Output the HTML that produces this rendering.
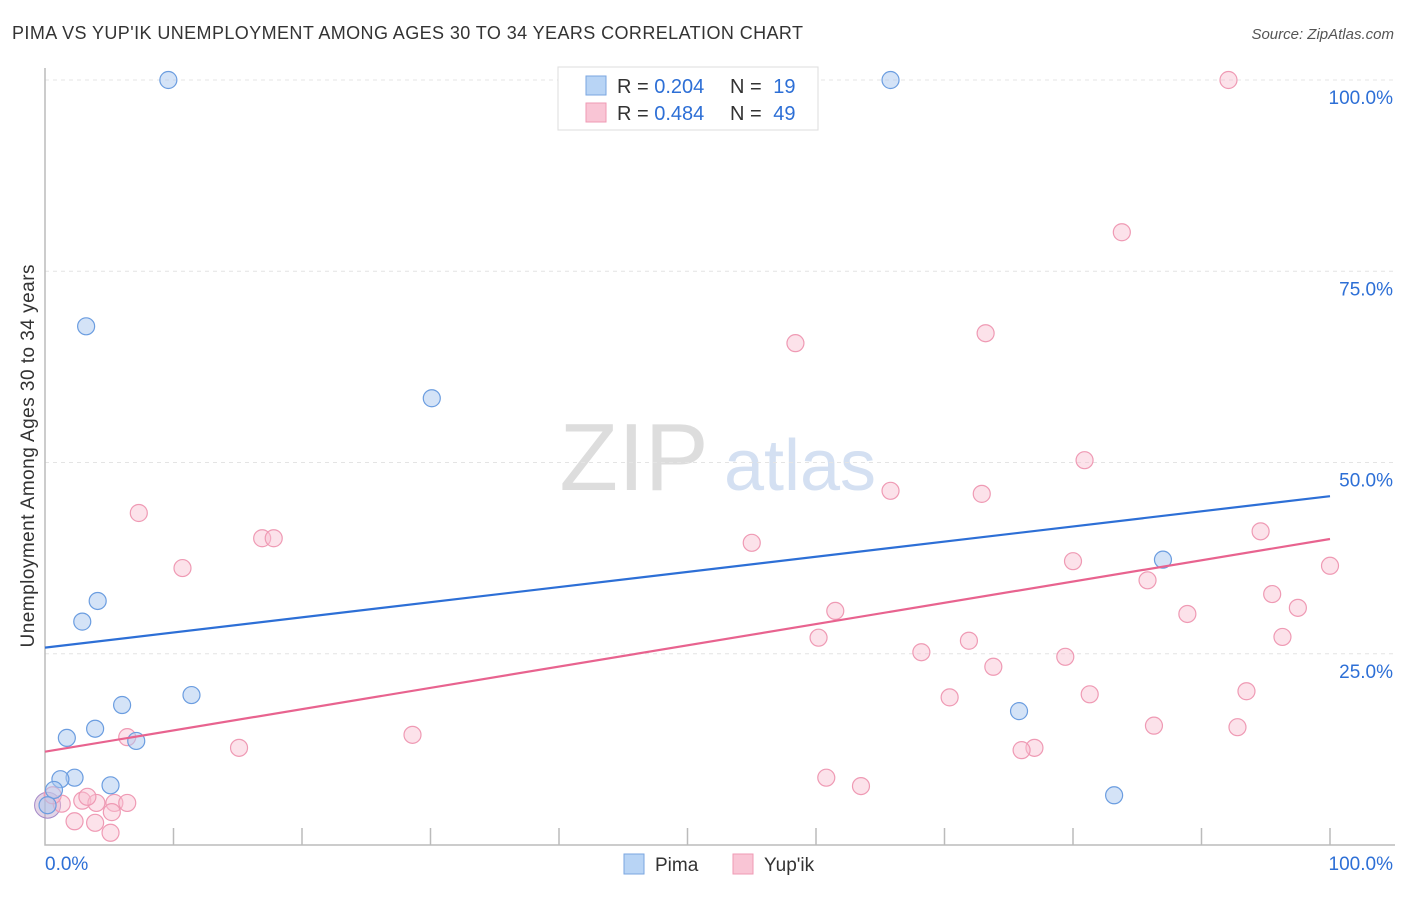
<!DOCTYPE html>
<html><head><meta charset="utf-8"><style>
body{margin:0;background:#fff;font-family:"Liberation Sans",sans-serif}
svg text{font-family:"Liberation Sans",sans-serif}
</style></head><body>
<svg id="c" width="1406" height="892">
<text x="12" y="39" font-size="18" fill="#333" textLength="791">PIMA VS YUP'IK UNEMPLOYMENT AMONG AGES 30 TO 34 YEARS CORRELATION CHART</text>
<text x="1394" y="39" font-size="15" font-style="italic" fill="#555" text-anchor="end">Source: ZipAtlas.com</text>
<text x="634" y="490" font-size="96" font-family="Liberation Serif" fill="#ddd" text-anchor="middle">ZIP</text>
<text x="800" y="490" font-size="72" fill="#d4e0f2" text-anchor="middle">atlas</text>
<text transform="translate(34,456) rotate(-90)" font-size="19" fill="#333" text-anchor="middle" textLength="383">Unemployment Among Ages 30 to 34 years</text>
<g id="grid"></g><g id="pts"></g><g id="lines"></g>
<g>
<rect x="558" y="67" width="260" height="63" fill="#fff" stroke="#ddd"/>
<rect x="586" y="76" width="20" height="19" fill="#b8d4f5" stroke="#7aa6e0"/>
<rect x="586" y="103" width="20" height="19" fill="#f9c5d5" stroke="#ef9ab4"/>
<text x="617" y="93" font-size="20" fill="#333">R = <tspan fill="#2d6fd6">0.204</tspan></text>
<text x="730" y="93" font-size="20" fill="#333">N = <tspan fill="#2d6fd6" dx="6">19</tspan></text>
<text x="617" y="120" font-size="20" fill="#333">R = <tspan fill="#2d6fd6">0.484</tspan></text>
<text x="730" y="120" font-size="20" fill="#333">N = <tspan fill="#2d6fd6" dx="6">49</tspan></text>
</g>
<g>
<rect x="624" y="854" width="20" height="20" fill="#b8d4f5" stroke="#7aa6e0"/>
<text x="655" y="871" font-size="19" fill="#333">Pima</text>
<rect x="733" y="854" width="20" height="20" fill="#f9c5d5" stroke="#ef9ab4"/>
<text x="764" y="871" font-size="19" fill="#333">Yup'ik</text>
</g>
<text x="45" y="870" font-size="19" fill="#2d6fd6">0.0%</text>
<text x="1393" y="870" font-size="19" fill="#2d6fd6" text-anchor="end">100.0%</text>
</svg>
<script>
const yTicks=[100,75,50,25];
const yTickLabels=["100.0%","75.0%","50.0%","25.0%"];
const pimaX=[9.6,65.8,3.2,30.1,4.1,2.9,11.4,6.0,3.9,1.7,7.1,87.0,75.8,2.3,1.2,5.1,0.7,83.2,0.2];
const pimaY=[100,100,67.8,58.4,31.9,29.2,19.6,18.3,15.2,14.0,13.6,37.3,17.5,8.8,8.6,7.8,7.2,6.5,5.2];
const yupX=[92.1,83.8,73.2,58.4,7.3,80.9,65.8,72.9,16.9,17.8,10.7,55.0,94.6,80.0,85.8,100,95.5,97.5,61.5,88.9,60.2,96.3,71.9,68.2,79.4,73.8,93.5,70.4,81.3,6.4,86.3,92.8,15.1,28.6,77.0,76.0,60.8,63.5,2.9,1.3,4.0,5.4,0.6,3.3,6.4,2.3,3.9,5.2,5.1];
const yupY=[100,80.1,66.9,65.6,43.4,50.3,46.3,45.9,40.1,40.1,36.2,39.5,41.0,37.1,34.6,36.5,32.8,31.0,30.6,30.2,27.1,27.2,26.7,25.2,24.6,23.3,20.1,19.3,19.7,14.1,15.6,15.4,12.7,14.4,12.7,12.4,8.8,7.7,5.8,5.4,5.5,5.5,6.5,6.3,5.5,3.1,2.9,4.3,1.6];
const pimaTrend=[25.8,45.6];
const yupTrend=[12.2,40.0];
const X=v=>45+v*12.85, Y=v=>845-v*7.65;
const NS="http://www.w3.org/2000/svg";
function mk(t,a,p){const e=document.createElementNS(NS,t);for(const k in a)e.setAttribute(k,a[k]);p.appendChild(e);return e;}
const g=document.getElementById('grid');
yTicks.forEach((t,i)=>{
 const l=mk('line',{x1:45,x2:1395,y1:Y(t),y2:Y(t),stroke:'#e4e4e4','stroke-dasharray':'4,4'},g);
 
 
 const tx=mk('text',{x:1393,y:Y(t)+24,'font-size':19,fill:'#2d6fd6','text-anchor':'end'},g);
 tx.textContent=yTickLabels[i];
 
 
});
const ax=mk('path',{d:'M45 68V845H1395',fill:'none',stroke:'#bbb','stroke-width':1.5},g);


for(let i=1;i<=10;i++){
 const t=mk('line',{x1:X(i*10),x2:X(i*10),y1:828,y2:845,stroke:'#bbb','stroke-width':1.5},g);
 
 
}
const p=document.getElementById('pts');
const big1=mk('circle',{cx:X(0.2),cy:Y(5.2),r:13,fill:'rgba(190,160,200,0.45)',stroke:'#a58ac8'},p);


yupX.forEach((v,i)=>{
 const c=mk('circle',{cx:X(v),cy:Y(yupY[i]),r:8.5,fill:'rgba(248,190,208,0.45)',stroke:'#ef9ab4','stroke-width':1.2},p);
 
 
});
pimaX.forEach((v,i)=>{
 const c=mk('circle',{cx:X(v),cy:Y(pimaY[i]),r:8.5,fill:'rgba(170,200,240,0.5)',stroke:'#6b9de0','stroke-width':1.2},p);
 
 
});
const L=document.getElementById('lines');
const l1=mk('line',{x1:X(0),y1:Y(pimaTrend[0]),x2:X(100),y2:Y(pimaTrend[1]),stroke:'#2d6fd6','stroke-width':2.2},L);


const l2=mk('line',{x1:X(0),y1:Y(yupTrend[0]),x2:X(100),y2:Y(yupTrend[1]),stroke:'#e8638f','stroke-width':2.2},L);


</script>
</body></html>
